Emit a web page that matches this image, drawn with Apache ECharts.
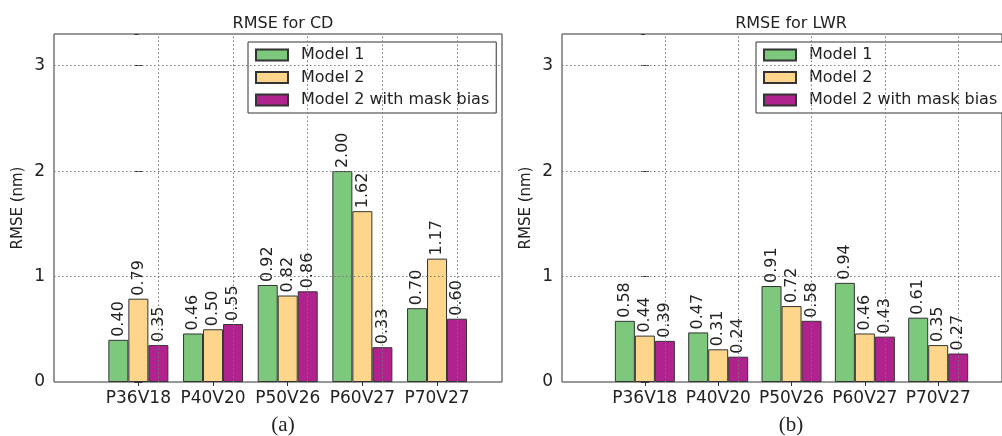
<!DOCTYPE html>
<html>
<head>
<meta charset="utf-8">
<script src="https://cdn.jsdelivr.net/npm/echarts@6/dist/echarts.min.js"></script>
<style>
html,body{margin:0;padding:0;background:#fff;}
#chart{width:1002px;height:436px;}
</style>
</head>
<body>
<div id="chart"></div>
<script>
const categories = ['P36V18', 'P40V20', 'P50V26', 'P60V27', 'P70V27'];
const seriesNames = ['Model 1', 'Model 2', 'Model 2 with mask bias'];
const cdModel1 = [0.40, 0.46, 0.92, 2.00, 0.70];
const cdModel2 = [0.79, 0.50, 0.82, 1.62, 1.17];
const cdMask = [0.35, 0.55, 0.86, 0.33, 0.60];
const lwrModel1 = [0.58, 0.47, 0.91, 0.94, 0.61];
const lwrModel2 = [0.44, 0.31, 0.72, 0.46, 0.35];
const lwrMask = [0.39, 0.24, 0.58, 0.43, 0.27];
const yTicks = [0, 1, 2, 3];
const titles = ['RMSE for CD', 'RMSE for LWR'];
const captions = ['(a)', '(b)'];

const colors = ['#7dc87d', '#fdd68c', '#b0238f'];
const FONT = 'DejaVu Sans';
const catIdx = categories.map((c, i) => i);

const grids = [
  {left: 54, top: 34, width: 448, height: 348},
  {left: 562, top: 34, width: 448, height: 348}
];
const panels = [[cdModel1, cdModel2, cdMask], [lwrModel1, lwrModel2, lwrMask]];

const xAxes = [], yAxes = [], series = [], legends = [], titleList = [];
grids.forEach((g, gi) => {
  const xBase = {
    type: 'value', gridIndex: gi, min: -1.13, max: 4.87,
    axisLine: {show: false},
    splitLine: {show: false},
    axisTick: {show: true, inside: true, length: 4, customValues: catIdx, lineStyle: {color: '#333'}}
  };
  xAxes.push(Object.assign({}, xBase, {
    position: 'bottom',
    axisLabel: {show: true, customValues: catIdx, formatter: v => categories[Math.round(v)] || '',
      fontFamily: FONT, fontSize: 17, color: '#222', margin: 8}
  }));
  xAxes.push(Object.assign({}, xBase, {position: 'top', axisLabel: {show: false}}));
  const yBase = {
    type: 'value', gridIndex: gi, min: 0, max: 3.3, interval: 1,
    axisLine: {show: false},
    splitLine: {show: false},
    axisTick: {show: true, inside: true, length: 4, lineStyle: {color: '#333'}}
  };
  yAxes.push(Object.assign({}, yBase, {
    position: 'left',
    name: 'RMSE (nm)', nameLocation: 'middle', nameGap: 28,
    nameTextStyle: {fontFamily: FONT, fontSize: 15, color: '#222'},
    axisLabel: {show: true, showMaxLabel: false, formatter: v => (yTicks.indexOf(v) >= 0 ? String(v) : ''),
      fontFamily: FONT, fontSize: 17, color: '#222', margin: 9}
  }));
  yAxes.push(Object.assign({}, yBase, {position: 'right', axisLabel: {show: false}}));

  panels[gi].forEach((vals, si) => {
    const s = {
      type: 'bar', name: seriesNames[si],
      xAxisIndex: gi * 2, yAxisIndex: gi * 2,
      barWidth: 20, barGap: '0%',
      z: si === 2 ? 3 : 2,
      itemStyle: {color: colors[si], borderColor: '#333', borderWidth: 1},
      label: {
        show: true, position: 'top', rotate: 90, align: 'left', verticalAlign: 'middle', distance: 3,
        formatter: p => p.value[1].toFixed(2),
        fontFamily: FONT, fontSize: 16, color: '#222'
      },
      emphasis: {disabled: true},
      data: vals.map((v, i) => [catIdx[i], v])
    };
    if (si === 2) {
      s.markLine = {
        silent: true, symbol: 'none', animation: false,
        label: {show: false},
        lineStyle: {color: '#777', type: [1.5, 2.5], width: 1},
        emphasis: {disabled: true},
        data: catIdx.map(i => ({xAxis: i})).concat(yTicks.filter(t => t > 0).map(t => ({yAxis: t})))
      };
    }
    series.push(s);
  });

  legends.push({
    left: g.left + 194, top: 42, orient: 'vertical',
    data: seriesNames.map(n => ({name: n, icon: 'rect'})),
    itemWidth: 32, itemHeight: 11, itemGap: 6.5,
    padding: [5, 7, 5, 7],
    borderColor: '#333', borderWidth: 1, backgroundColor: '#fff',
    textStyle: {fontFamily: FONT, fontSize: 16, color: '#222', lineHeight: 16, padding: [0, 0, 0, 8]},
    selectedMode: false
  });
  titleList.push({
    text: titles[gi], left: g.left + g.width / 2, top: 11, textAlign: 'center',
    textStyle: {fontFamily: FONT, fontSize: 16, fontWeight: 'normal', color: '#222'}
  });
  titleList.push({
    text: captions[gi], left: g.left + g.width / 2, top: 410, textAlign: 'center',
    textStyle: {fontFamily: 'Liberation Serif', fontSize: 21, fontWeight: 'normal', color: '#222'}
  });
});

const chart = echarts.init(document.getElementById('chart'), null, {renderer: 'canvas'});
chart.setOption({
  animation: false,
  backgroundColor: '#fff',
  title: titleList,
  legend: legends,
  grid: grids.map(g => Object.assign({show: true, borderColor: '#333', borderWidth: 1, backgroundColor: 'transparent'}, g)),
  xAxis: xAxes,
  yAxis: yAxes,
  series: series
});
</script>
</body>
</html>
